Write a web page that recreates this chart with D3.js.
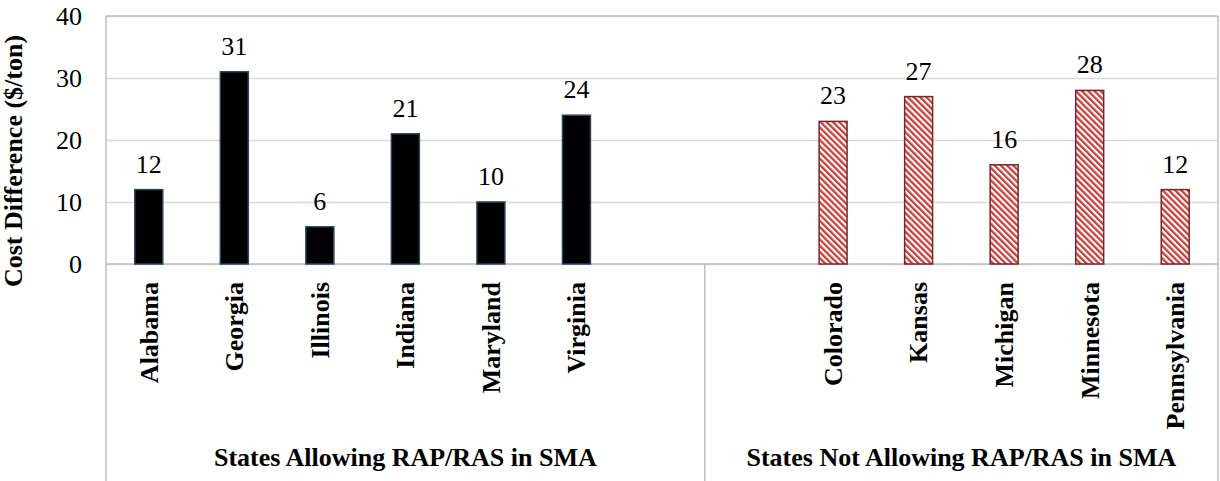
<!DOCTYPE html>
<html>
<head>
<meta charset="utf-8">
<script src="https://cdn.jsdelivr.net/npm/d3@7/dist/d3.min.js"></script>
</head>
<body style="margin:0;padding:0;background:#fff;">
<svg id="chart" width="1220" height="481" style="display:block;"></svg>
<script>
// Cost difference per state, grouped by whether RAP/RAS is allowed in SMA
const allowingStates = ["Alabama", "Georgia", "Illinois", "Indiana", "Maryland", "Virginia"];
const allowingCosts = [12, 31, 6, 21, 10, 24];
const notAllowingStates = ["Colorado", "Kansas", "Michigan", "Minnesota", "Pennsylvania"];
const notAllowingCosts = [23, 27, 16, 28, 12];
const groupLabels = ["States Allowing RAP/RAS in SMA", "States Not Allowing RAP/RAS in SMA"];
const yTicks = [0, 10, 20, 30, 40];
const yTitle = "Cost Difference ($/ton)";

// Category slots: each group carries one empty slot next to the divider
const slots = [];
allowingStates.forEach((s, i) => slots.push({ id: "a" + i, name: s, value: allowingCosts[i], group: 0 }));
slots.push({ id: "a-gap", name: "", value: null, group: 0 });
slots.push({ id: "n-gap", name: "", value: null, group: 1 });
notAllowingStates.forEach((s, i) => slots.push({ id: "n" + i, name: s, value: notAllowingCosts[i], group: 1 }));

const svg = d3.select("#chart");
const plotLeft = 106, plotRight = 1218, plotTop = 16, plotBottom = 264, chartBottom = 481;
const fontSize = 26;
const serif = '"Liberation Serif"';

// Apply the serif face to a text selection
function serifText(sel, bold) {
  sel.style("font-family", serif)
     .style("font-size", fontSize + "px")
     .style("font-weight", bold ? "bold" : "normal")
     .attr("fill", "#000");
  return sel;
}

const x = d3.scaleBand()
  .domain(slots.map(d => d.id))
  .range([plotLeft, plotRight])
  .paddingInner(0.673)
  .paddingOuter(0.3365);
const y = d3.scaleLinear().domain([0, 40]).range([plotBottom, plotTop]);

// Hatch pattern for the second group
const defs = svg.append("defs");
const pat = defs.append("pattern")
  .attr("id", "hatch")
  .attr("patternUnits", "userSpaceOnUse")
  .attr("width", 4.4).attr("height", 4.4)
  .attr("patternTransform", "rotate(-45)");
pat.append("rect").attr("width", 4.4).attr("height", 4.4).attr("fill", "#ffffff");
pat.append("rect").attr("width", 2.3).attr("height", 4.4).attr("fill", "#c8403e");

// Gridlines and value axis labels
const yAxis = d3.axisLeft(y).tickValues(yTicks).tickSize(-(plotRight - plotLeft)).tickPadding(24);
const gy = svg.append("g").attr("transform", `translate(${plotLeft},0)`).call(yAxis);
gy.attr("font-family", null).attr("font-size", null);
gy.select(".domain").remove();
gy.selectAll(".tick line").attr("stroke", "#d9d9d9").attr("stroke-width", 1.5);
serifText(gy.selectAll(".tick text").attr("dy", "0.33em"), false);

// Outer frame and group dividers of the category axis
const frame = svg.append("g").attr("stroke", "#bfbfbf").attr("stroke-width", 1.5).attr("fill", "none");
frame.append("line").attr("x1", plotLeft).attr("x2", plotRight).attr("y1", plotTop).attr("y2", plotTop);
frame.append("line").attr("x1", plotLeft).attr("x2", plotLeft).attr("y1", plotTop).attr("y2", chartBottom);
frame.append("line").attr("x1", plotRight).attr("x2", plotRight).attr("y1", plotTop).attr("y2", chartBottom);
frame.append("line").attr("x1", plotLeft).attr("x2", plotRight).attr("y1", y(0)).attr("y2", y(0));
const dividerX = x("n-gap") - x.step() * x.paddingInner() / 2;
frame.append("line").attr("x1", dividerX).attr("x2", dividerX).attr("y1", y(0)).attr("y2", chartBottom);

// Bars
const filled = slots.filter(d => d.value !== null);
svg.append("g").selectAll("rect")
  .data(filled)
  .join("rect")
  .attr("x", d => x(d.id))
  .attr("width", x.bandwidth())
  .attr("y", d => y(d.value))
  .attr("height", d => y(0) - y(d.value))
  .attr("fill", d => d.group === 0 ? "#000000" : "url(#hatch)")
  .attr("stroke", d => d.group === 0 ? "#2b4262" : "#7a2626")
  .attr("stroke-width", 1.5);

// Value labels
serifText(svg.append("g").selectAll("text")
  .data(filled)
  .join("text")
  .attr("x", d => x(d.id) + x.bandwidth() / 2)
  .attr("y", d => y(d.value) - 17)
  .attr("text-anchor", "middle")
  .text(d => d.value), false);

// Category labels, rotated
serifText(svg.append("g").selectAll("text")
  .data(filled)
  .join("text")
  .attr("transform", d => `translate(${x(d.id) + x.bandwidth() / 2},282) rotate(-90)`)
  .attr("text-anchor", "end")
  .attr("dy", "0.34em")
  .text(d => d.name), true);

// Group labels
const groupRanges = [[plotLeft, dividerX], [dividerX, plotRight]];
serifText(svg.append("g").selectAll("text")
  .data(groupLabels)
  .join("text")
  .attr("x", (d, i) => (groupRanges[i][0] + groupRanges[i][1]) / 2)
  .attr("y", 466)
  .attr("text-anchor", "middle")
  .text(d => d), true);

// Y axis title
serifText(svg.append("text")
  .attr("transform", "translate(22,161) rotate(-90)")
  .attr("text-anchor", "middle")
  .text(yTitle), true);
</script>
</body>
</html>
